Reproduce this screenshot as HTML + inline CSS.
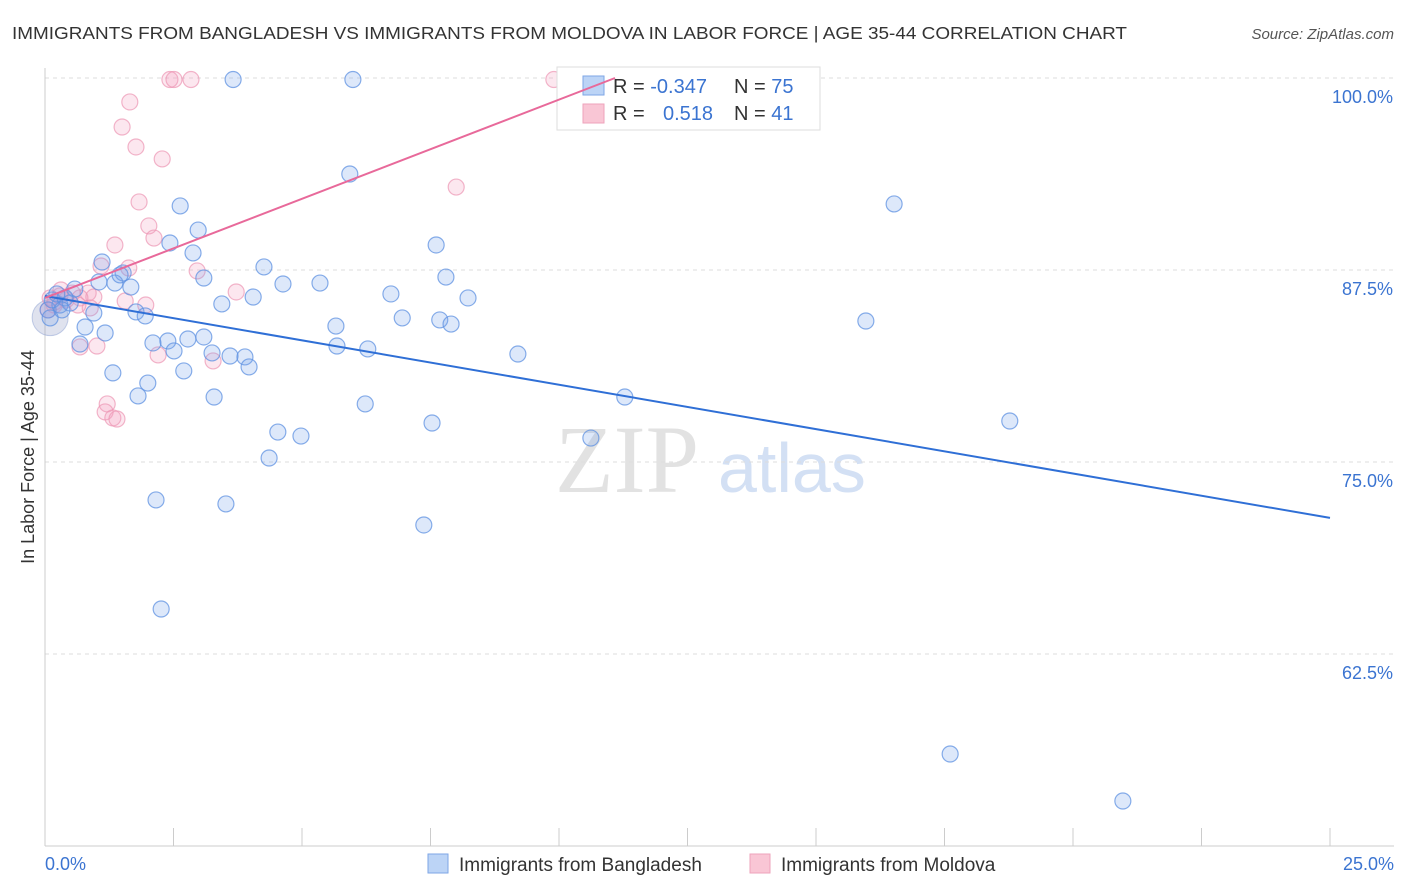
<!DOCTYPE html>
<html><head><meta charset="utf-8"><style>
body{margin:0;background:#fff;font-family:"Liberation Sans",sans-serif;}
svg{display:block}
</style></head><body>
<svg id="c" width="1406" height="892">
<text x="12" y="39" font-size="17.5" fill="#333" textLength="1115" lengthAdjust="spacingAndGlyphs">IMMIGRANTS FROM BANGLADESH VS IMMIGRANTS FROM MOLDOVA IN LABOR FORCE | AGE 35-44 CORRELATION CHART</text>
<text x="1394" y="39" font-size="15" fill="#555" font-style="italic" text-anchor="end">Source: ZipAtlas.com</text>
<text x="34" y="457" font-size="18" fill="#333" text-anchor="middle" transform="rotate(-90 34 457)">In Labor Force | Age 35-44</text>
<text x="555" y="492" font-size="96" fill="#e2e2e2" font-family="Liberation Serif,serif">ZIP</text>
<text x="718" y="492" font-size="70" fill="#d3e0f4">atlas</text>
<g id="grid"></g><g id="pts"></g>
<g>
<rect x="557" y="67" width="263" height="63" fill="#fff" stroke="#ddd"/>
<rect x="583" y="76" width="21" height="19" fill="#bcd4f6" stroke="#7ea6e6"/>
<rect x="583" y="104" width="21" height="19" fill="#f9c6d5" stroke="#eea3bb"/>
<text x="613" y="93" font-size="20" fill="#333">R = <tspan fill="#3b74d1">-0.347</tspan></text>
<text x="734" y="93" font-size="20" fill="#333">N = <tspan fill="#3b74d1">75</tspan></text>
<text x="613" y="120" font-size="20" fill="#333">R = <tspan fill="#3b74d1" x="663">0.518</tspan></text>
<text x="734" y="120" font-size="20" fill="#333">N = <tspan fill="#3b74d1">41</tspan></text>
</g>
<g id="trend"></g>
<g>
<rect x="428" y="854" width="20" height="19" fill="#bcd4f6" stroke="#7ea6e6"/>
<text x="459" y="871" font-size="19" fill="#333">Immigrants from Bangladesh</text>
<rect x="750" y="854" width="20" height="19" fill="#f9c6d5" stroke="#eea3bb"/>
<text x="781" y="871" font-size="19" fill="#333">Immigrants from Moldova</text>
</g>
<text x="45" y="870" font-size="18" fill="#3b74d1">0.0%</text>
<text x="1394" y="870" font-size="18" fill="#3b74d1" text-anchor="end">25.0%</text>
</svg>
<script>
const yTicks=[100,87.5,75,62.5];
const yTickLabels=["100.0%","87.5%","75.0%","62.5%"];
const xTicks=[0,2.5,5,7.5,10,12.5,15,17.5,20,22.5,25];
const blueX=[3.66,5.99,5.93,2.63,2.98,16.52,2.43,7.61,2.88,1.11,4.26,1.52,7.80,3.09,1.05,1.36,1.67,4.63,5.35,0.58,4.05,6.73,8.23,3.44,0.06,0.29,0.49,1.77,1.95,0.95,15.97,6.95,7.68,7.90,5.66,0.78,1.17,3.09,2.78,2.39,2.10,0.68,5.68,6.28,2.51,3.25,3.60,3.89,9.20,3.97,2.70,1.32,2.00,1.81,3.29,11.28,6.23,7.53,18.77,4.53,4.98,10.62,4.36,2.16,3.52,7.37,2.26,17.61,20.97,0.10,0.14,0.39,0.33,0.23,1.46];
const blueY=[99.9,99.9,93.75,91.67,90.10,91.80,89.26,89.13,88.61,88.02,87.70,87.31,87.04,86.98,86.72,86.65,86.39,86.59,86.65,86.26,85.74,85.94,85.68,85.29,84.90,85.22,85.35,84.77,84.51,84.70,84.18,84.38,84.25,83.98,83.85,83.79,83.40,83.14,83.01,82.88,82.75,82.68,82.55,82.36,82.23,82.10,81.90,81.84,82.03,81.19,80.93,80.80,80.14,79.30,79.23,79.23,78.78,77.54,77.67,76.95,76.69,76.56,75.26,72.53,72.27,70.90,65.43,55.99,52.93,84.38,85.55,85.68,84.90,85.94,87.18];
const pinkX=[2.43,2.51,2.84,9.90,14.20,1.65,1.50,1.77,2.28,8.00,1.83,2.02,2.12,1.36,1.09,1.63,2.96,3.72,0.31,0.53,0.84,0.95,1.56,1.96,0.10,0.18,0.41,0.68,0.88,1.01,0.68,2.20,3.27,1.21,1.17,1.32,1.40,0.19,0.29,0.06,0.64];
const pinkY=[99.9,99.9,99.9,99.9,99.9,98.44,96.81,95.51,94.73,92.90,91.93,90.37,89.58,89.13,87.76,87.63,87.44,86.07,86.20,86.00,86.00,85.74,85.48,85.22,85.68,85.22,85.55,85.68,85.03,82.55,82.49,81.97,81.58,78.78,78.26,77.87,77.80,85.42,85.81,84.90,85.22];
const blueTrend=[[0,85.81],[25,71.36]];
const pinkTrend=[[0,85.68],[11.09,100]];
const NS="http://www.w3.org/2000/svg";
const X=v=>45+v/25*1285, Y=v=>846-(v-50)/50*768;
function mk(t,a,p){const e=document.createElementNS(NS,t);for(const k in a)e.setAttribute(k,a[k]);p.appendChild(e);return e;}
const g=document.getElementById('grid');
yTicks.forEach((t,i)=>{
 const l=mk('line',{x1:45,x2:1394,y1:Y(t),y2:Y(t),stroke:'#ddd','stroke-dasharray':'4,4'},g);
 
 
 const tx=mk('text',{x:1393,y:Y(t)+25,'font-size':18,fill:'#3b74d1','text-anchor':'end'},g);
 tx.textContent=yTickLabels[i];
 
 
});
const ax=mk('line',{x1:45,x2:45,y1:68,y2:846,stroke:'#ccc'},g);


const bx=mk('line',{x1:45,x2:1394,y1:846,y2:846,stroke:'#ccc'},g);


xTicks.forEach(t=>{
 const l=mk('line',{x1:X(t),x2:X(t),y1:828,y2:846,stroke:'#ccc'},g);
 
 
});
const p=document.getElementById('pts');
const big=mk('circle',{cx:X(0.1),cy:Y(84.4),r:18,fill:'rgba(150,160,200,0.3)',stroke:'rgba(140,160,210,0.5)'},p);


pinkX.forEach((x,i)=>{
 const c=mk('circle',{cx:X(x),cy:Y(pinkY[i]),r:8,fill:'rgba(244,160,190,0.25)',stroke:'rgba(236,150,180,0.7)','stroke-width':1.2},p);
 
 
});
blueX.forEach((x,i)=>{
 const c=mk('circle',{cx:X(x),cy:Y(blueY[i]),r:8,fill:'rgba(120,165,235,0.25)',stroke:'rgba(95,145,225,0.75)','stroke-width':1.2},p);
 
 
});
const tr=document.getElementById('trend');
const bl=mk('line',{x1:X(blueTrend[0][0]),y1:Y(blueTrend[0][1]),x2:X(blueTrend[1][0]),y2:Y(blueTrend[1][1]),stroke:'#2f6fd6','stroke-width':2},tr);


const pl=mk('line',{x1:X(pinkTrend[0][0]),y1:Y(pinkTrend[0][1]),x2:X(pinkTrend[1][0]),y2:Y(pinkTrend[1][1]),stroke:'#e8699a','stroke-width':2},tr);


</script>
</body></html>
